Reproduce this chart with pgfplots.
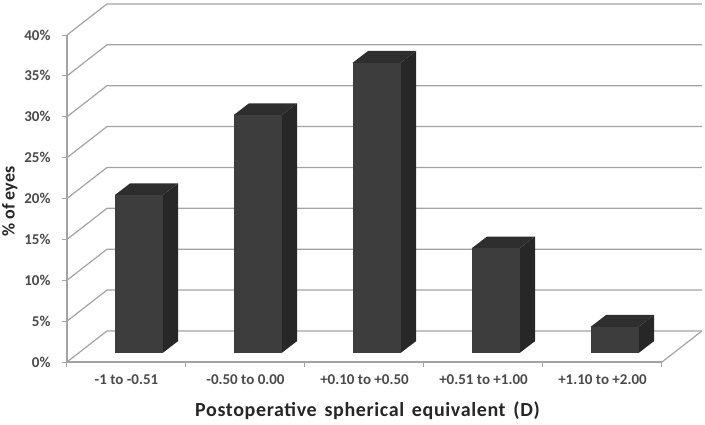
\documentclass[border=0pt]{standalone}
\usepackage{fontspec}
\setmainfont{Carlito}
\newfontfamily\xlabelfont[LetterSpace=3.2,WordSpace=1.5]{Carlito}
\usepackage{pgfplots}
\pgfplotsset{compat=1.18}

\definecolor{gridgray}{HTML}{A3A3A3}
\definecolor{labelgray}{HTML}{4A4A4A}
\definecolor{barfront}{HTML}{3D3D3D}
\definecolor{bartop}{HTML}{2E2E2E}
\definecolor{barside}{HTML}{272727}

% depth of the floor: 40px across, 31px up
\newcommand{\wallline}[1]{%
  \pgfmathsetmacro\wy{#1+3.8}%
  \edef\temp{\noexpand\addplot[gridgray, line width=1.2pt] coordinates {(0,#1) (0.336,\wy) (5.336,\wy)};}%
  \temp
}
% one 3d bar: category index, value
\newcommand{\threedbar}[2]{%
  \pgfmathsetmacro\xa{#1+0.40}%
  \pgfmathsetmacro\xb{\xa+0.403}%
  \pgfmathsetmacro\xc{\xb+0.13}%
  \pgfmathsetmacro\xd{\xa+0.13}%
  \pgfmathsetmacro\yb{#2+1.1}%
  \pgfmathsetmacro\yc{\yb+1.45}%
  \edef\temp{\noexpand\addplot[fill=barside, draw=none] coordinates {(\xb,1.1) (\xc,2.55) (\xc,\yc) (\xb,\yb)} --cycle;
    \noexpand\addplot[fill=bartop, draw=none] coordinates {(\xa,\yb) (\xd,\yc) (\xc,\yc) (\xb,\yb)} --cycle;
    \noexpand\addplot[fill=barfront, draw=none] coordinates {(\xa,1.1) (\xb,1.1) (\xb,\yb) (\xa,\yb)} --cycle;}%
  \temp
}

\begin{document}
\begin{tikzpicture}[x=1pt,y=1pt]
\useasboundingbox (0,0) rectangle (705,424);
\begin{axis}[
  at={(67pt,62pt)}, anchor=south west,
  scale only axis, width=595pt, height=327pt,
  xmin=0, xmax=5, ymin=0, ymax=40,
  clip=false,
  axis x line=bottom, axis y line=left,
  axis line style={gridgray, line width=1.2pt, -},
  tick align=outside,
  tick style={gridgray, line width=1pt},
  major tick length=5pt,
  minor tick length=5pt,
  xtick={0.5,1.5,2.5,3.5,4.5},
  xticklabels={-1 to -0.51,-0.50 to 0.00,+0.10 to +0.50,+0.51 to +1.00,+1.10 to +2.00},
  x tick style={draw=none},
  minor xtick={0,1,2,3,4,5},
  minor x tick style={gridgray, line width=1pt, draw=gridgray},
  ytick={0,5,...,40},
  yticklabel={\pgfmathprintnumber{\tick}\%},
  /pgf/number format/assume math mode=true,
  tick label style={font=\fontsize{15}{15}\selectfont\bfseries, text=labelgray},
  yticklabel style={xshift=-8pt},
  xticklabel style={yshift=-4pt},
  xlabel={Postoperative spherical equivalent (D)},
  ylabel={\% of eyes},
  xlabel style={font=\fontsize{20}{20}\selectfont\xlabelfont\bfseries, text=black!85, at={(axis description cs:0.505,-0.15)}, anchor=center},
  ylabel style={font=\fontsize{18}{18}\selectfont\bfseries, text=black!85, at={(axis description cs:-0.096,0.49)}, anchor=center},
]
\wallline{0} \wallline{5} \wallline{10} \wallline{15} \wallline{20}
\wallline{25} \wallline{30} \wallline{35} \wallline{40}
\addplot[gridgray, line width=1.2pt] coordinates {(5,0) (5.336,3.8)};
\threedbar{0}{19.3}
\threedbar{1}{29.1}
\threedbar{2}{35.5}
\threedbar{3}{12.8}
\threedbar{4}{3.2}
\end{axis}
\end{tikzpicture}
\end{document}
